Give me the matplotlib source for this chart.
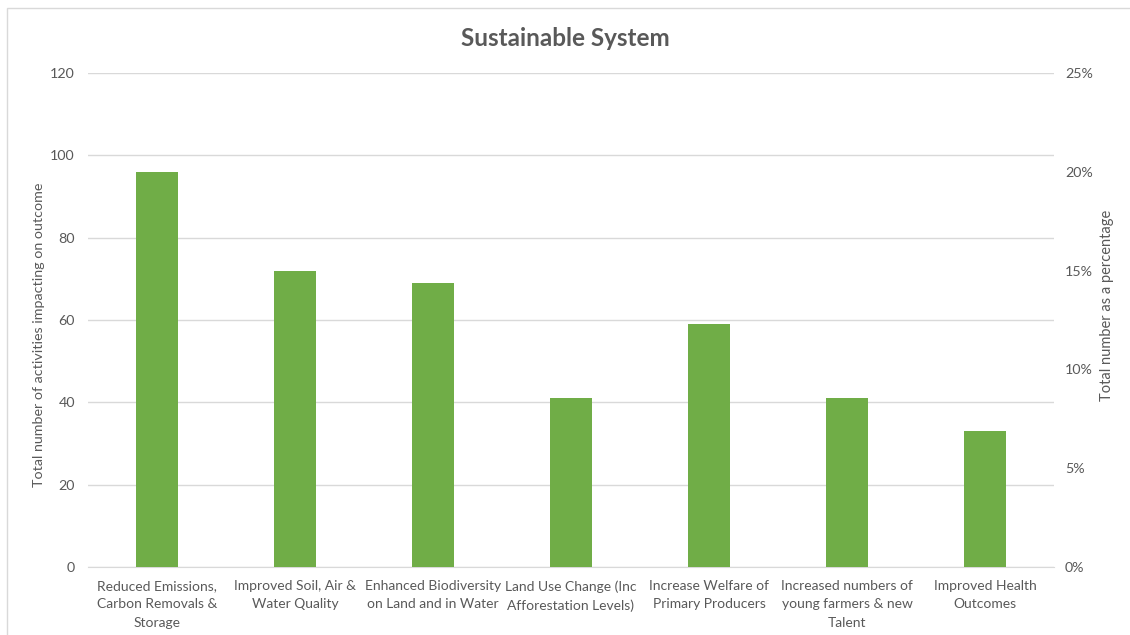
import numpy as np
import matplotlib.pyplot as plt
from matplotlib.patches import Rectangle
from matplotlib.ticker import PercentFormatter

plt.rcParams['font.family'] = ['Lato', 'DejaVu Sans']

categories = ['Reduced Emissions,\nCarbon Removals &\nStorage',
              'Improved Soil, Air &\nWater Quality',
              'Enhanced Biodiversity\non Land and in Water',
              'Land Use Change (Inc\nAfforestation Levels)',
              'Increase Welfare of\nPrimary Producers',
              'Increased numbers of\nyoung farmers & new\nTalent',
              'Improved Health\nOutcomes']
counts = [96, 72, 69, 41, 59, 41, 33]
left_ticks = [0, 20, 40, 60, 80, 100, 120]
right_ticks = [0, 5, 10, 15, 20, 25]

grey = '#595959'
grid = '#D9D9D9'

fig = plt.figure(figsize=(11.3, 6.35), dpi=100)
ax = fig.add_axes([0.0779, 0.1071, 0.8548, 0.7779])

x = np.arange(len(categories))
ax.bar(x, counts, width=0.31, color='#70AD47', zorder=3)
ax.set_xlim(-0.5, len(categories) - 0.5)
ax.set_ylim(0, 120)
ax.set_yticks(left_ticks)
ax.set_xticks(x)
ax.set_xticklabels(categories, fontsize=10, color=grey, linespacing=1.62)
ax.tick_params(axis='both', length=0, labelsize=10.3, labelcolor=grey)
ax.tick_params(axis='x', labelsize=10)
ax.tick_params(axis='y', pad=9.5)
ax.tick_params(axis='x', pad=9.5)
ax.grid(axis='y', color=grid, linewidth=1, zorder=0)
for s in ['top', 'right', 'left']:
    ax.spines[s].set_visible(False)
ax.spines['bottom'].set_color(grid)
ax.set_ylabel('Total number of activities impacting on outcome',
              fontsize=10.3, color=grey, labelpad=2)
ax.yaxis.set_label_coords(-0.045, 0.47)

ax2 = ax.twinx()
ax2.set_ylim(0, 25)
ax2.set_yticks(right_ticks)
ax2.yaxis.set_major_formatter(PercentFormatter(decimals=0))
ax2.tick_params(axis='y', length=0, labelsize=10.3, labelcolor=grey, pad=8)
for s in ax2.spines.values():
    s.set_visible(False)
ax2.set_ylabel('Total number as a percentage', fontsize=10.5, color=grey, labelpad=3)
ax2.yaxis.set_label_coords(1.048, 0.53)

fig.text(0.5, 0.94, 'Sustainable System', ha='center', va='center',
         fontsize=17.5, fontweight='bold', color=grey)

fig.patches.append(Rectangle((7 / 1130, -0.1), 1.2, 1 - 8 / 635 + 0.1,
                             transform=fig.transFigure, fill=False,
                             edgecolor=grid, linewidth=1))

fig.savefig('out.png', dpi=100)
